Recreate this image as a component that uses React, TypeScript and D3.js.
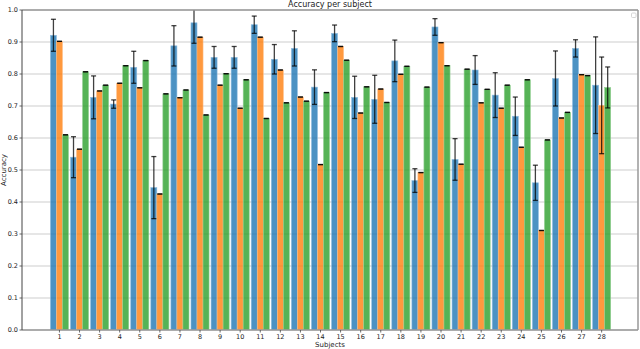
import React from 'react';
import * as d3 from 'd3';

// subjects 1..28
const subjects = d3.range(1, 29);

// model A (blue), with std error
const blueVals = [0.921, 0.540, 0.727, 0.706, 0.821, 0.445, 0.888, 0.960, 0.852, 0.852,
  0.954, 0.846, 0.880, 0.759, 0.927, 0.727, 0.721, 0.841, 0.467, 0.947,
  0.533, 0.8125, 0.734, 0.668, 0.460, 0.786, 0.880, 0.765];
const blueErr = [0.050, 0.064, 0.067, 0.013, 0.050, 0.097, 0.063, 0.064, 0.034, 0.034,
  0.027, 0.046, 0.055, 0.054, 0.026, 0.066, 0.075, 0.065, 0.037, 0.026,
  0.065, 0.045, 0.070, 0.060, 0.055, 0.086, 0.027, 0.151];

// model B (orange)
const orangeVals = [0.902, 0.565, 0.747, 0.771, 0.757, 0.425, 0.726, 0.915, 0.765, 0.693,
  0.915, 0.8125, 0.728, 0.517, 0.886, 0.678, 0.753, 0.799, 0.492, 0.898,
  0.518, 0.710, 0.693, 0.571, 0.311, 0.6625, 0.798, 0.702];
const orangeErr = [0, 0, 0, 0, 0, 0, 0, 0, 0, 0,
  0, 0, 0, 0, 0, 0, 0, 0, 0, 0,
  0, 0, 0, 0, 0, 0, 0, 0.151];

// model C (green)
const greenVals = [0.610, 0.807, 0.765, 0.826, 0.842, 0.738, 0.750, 0.672, 0.801, 0.782,
  0.661, 0.710, 0.715, 0.742, 0.843, 0.760, 0.711, 0.824, 0.759, 0.826,
  0.815, 0.752, 0.765, 0.782, 0.594, 0.680, 0.795, 0.758];
const greenErr = [0, 0, 0, 0, 0, 0, 0, 0, 0, 0,
  0, 0, 0, 0, 0, 0, 0, 0, 0, 0,
  0, 0, 0, 0, 0, 0, 0, 0.064];

const yTicks = d3.range(0, 1.01, 0.1);

const series = [
  { vals: blueVals, err: blueErr, color: '#1f77b4', edge: '#8fbce0', offset: -0.3 },
  { vals: orangeVals, err: orangeErr, color: '#ff7f0e', edge: '#ffbf87', offset: 0 },
  { vals: greenVals, err: greenErr, color: '#2ca02c', edge: '#95d095', offset: 0.3 },
];

const W = 640;
const H = 349;
const left = 22, right = 638, top = 10, bottom = 330;

export default function App() {
  const x = d3.scaleLinear().domain([-0.865, 29.81]).range([left, right]);
  const y = d3.scaleLinear().domain([0, 1]).range([bottom, top]);
  const bw = x(0.3) - x(0);

  return (
    <svg width={W} height={H} style={{ position: 'absolute', left: 0, top: 0 }}
      fontFamily="DejaVu Sans, sans-serif">
      <defs>
        <clipPath id="plot">
          <rect x={left} y={top} width={right - left} height={bottom - top} />
        </clipPath>
      </defs>
      <rect x={0} y={0} width={W} height={H} fill="#fff" />
      {/* grid */}
      {yTicks.map((t, i) => (
        <line key={'g' + i} x1={left} x2={right} y1={y(t)} y2={y(t)}
          stroke="#dedede" strokeWidth={1.5} />
      ))}
      <g clipPath="url(#plot)">
        {/* bars */}
        {series.map((s, si) => (
          <g key={'s' + si}>
            {subjects.map((sub, i) => (
              <rect key={i}
                x={x(sub + s.offset) - bw / 2}
                y={y(s.vals[i])}
                width={bw}
                height={y(0) - y(s.vals[i])}
                fill={s.color} fillOpacity={0.8}
                stroke={s.edge} strokeWidth={0.6} />
            ))}
          </g>
        ))}
        {/* error bars */}
        {series.map((s, si) => (
          <g key={'e' + si} stroke="#000" strokeOpacity={0.75} strokeWidth={1.3}>
            {subjects.map((sub, i) => {
              const cx = x(sub + s.offset);
              const hi = y(s.vals[i] + s.err[i]);
              const lo = y(s.vals[i] - s.err[i]);
              return (
                <g key={i}>
                  {s.err[i] > 0 && <line x1={cx} x2={cx} y1={hi} y2={lo} />}
                  <line x1={cx - 2.5} x2={cx + 2.5} y1={hi} y2={hi} />
                  <line x1={cx - 2.5} x2={cx + 2.5} y1={lo} y2={lo} />
                </g>
              );
            })}
          </g>
        ))}
      </g>
      {/* spines */}
      <line x1={left} x2={right} y1={top} y2={top} stroke="#999" strokeWidth={1.5} />
      <line x1={right} x2={right} y1={top} y2={bottom} stroke="#999" strokeWidth={1.5} />
      <line x1={left} x2={right} y1={bottom} y2={bottom} stroke="#999" strokeWidth={1.5} />
      <line x1={left} x2={left} y1={top} y2={bottom} stroke="#444" strokeWidth={1} />
      {/* y ticks */}
      {yTicks.map((t, i) => (
        <g key={'yt' + i}>
          <line x1={left - 2.5} x2={left} y1={y(t)} y2={y(t)} stroke="#444" strokeWidth={0.8} />
          <text x={left - 4} y={y(t)} dy="0.35em" textAnchor="end" fontSize={6.5} fill="#222">
            {t.toFixed(1)}
          </text>
        </g>
      ))}
      {/* x ticks */}
      {subjects.map((sub) => (
        <g key={'xt' + sub}>
          <line x1={x(sub)} x2={x(sub)} y1={bottom} y2={bottom + 2.5} stroke="#444" strokeWidth={0.8} />
          <text x={x(sub)} y={bottom + 9} textAnchor="middle" fontSize={6.5} fill="#222">{sub}</text>
        </g>
      ))}
      <text x={(left + right) / 2} y={347} textAnchor="middle" fontSize={7} fill="#222">Subjects</text>
      <text transform={`translate(6,${(top + bottom) / 2}) rotate(-90)`} textAnchor="middle"
        fontSize={7} fill="#222">Accuracy</text>
      <text x={(left + right) / 2} y={7} textAnchor="middle" fontSize={8} fill="#222">Accuracy per subject</text>
      {/* empty legend */}
      <rect x={631.5} y={13} width={4.5} height={4.5} rx={1} fill="#fff" stroke="#ccc" strokeWidth={0.8} />
    </svg>
  );
}
